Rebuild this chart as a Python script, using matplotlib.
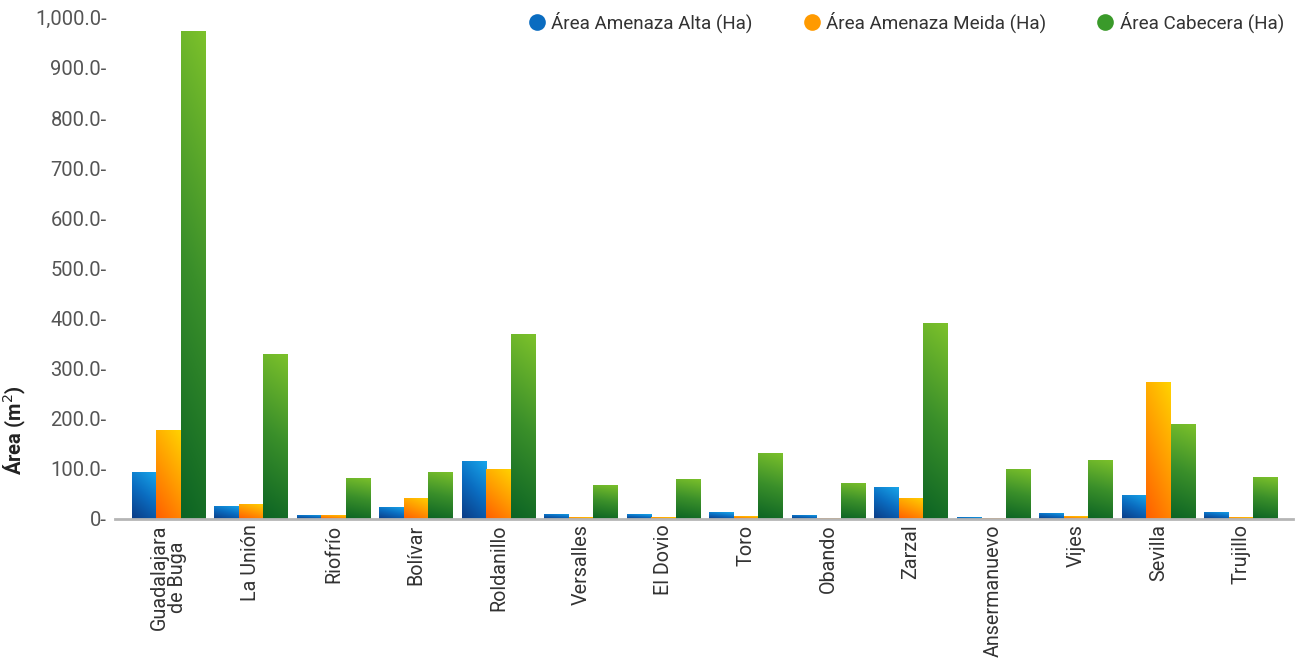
import numpy as np
import matplotlib
matplotlib.use("Agg")
import matplotlib.pyplot as plt
from matplotlib.colors import LinearSegmentedColormap
from matplotlib.lines import Line2D

categories = ["Guadalajara\nde Buga", "La Unión", "Riofrío", "Bolívar", "Roldanillo",
              "Versalles", "El Dovio", "Toro", "Obando", "Zarzal", "Ansermanuevo",
              "Vijes", "Sevilla", "Trujillo"]
alta = [94, 26, 8, 24, 116, 10, 9, 13, 8, 64, 3, 12, 48, 14]
media = [178, 30, 8, 42, 100, 3, 3, 5, 2, 42, 2, 5, 273, 3]
cabecera = [974, 330, 82, 94, 369, 68, 80, 132, 72, 391, 100, 118, 190, 83]
series_names = ["Área Amenaza Alta (Ha)", "Área Amenaza Meida (Ha)", "Área Cabecera (Ha)"]
yticks = [0, 100, 200, 300, 400, 500, 600, 700, 800, 900, 1000]

plt.rcParams["font.family"] = ["Roboto", "DejaVu Sans"]

cmaps = [
    LinearSegmentedColormap.from_list("b", ["#0b3c86", "#0a6cc0", "#18a6ea"]),
    LinearSegmentedColormap.from_list("o", ["#ff5f00", "#ff9a00", "#ffd200"]),
    LinearSegmentedColormap.from_list("g", ["#0c6424", "#3a8f2a", "#7cc12b"]),
]
solid = ["#0a6cc0", "#ff9a00", "#3a9a2a"]

fig = plt.figure(figsize=(13.06, 6.61), dpi=100)
ax = fig.add_axes([0.088, 0.215, 0.902, 0.758])

x = np.arange(len(categories))
w = 0.297
data = [alta, media, cabecera]
ny, nx = 64, 16
yy, xx = np.mgrid[0:1:ny*1j, 0:1:nx*1j]
for si, vals in enumerate(data):
    off = (si - 1) * w
    bars = ax.bar(x + off, vals, width=w, color="none", edgecolor="none", zorder=2)
    grad = 0.8 * yy + 0.35 * xx if si < 2 else 0.92 * yy + 0.1 * xx
    grad = grad / grad.max()
    for b in bars:
        x0, y0 = b.get_x(), b.get_y()
        bw, bh = b.get_width(), b.get_height()
        if bh <= 0:
            continue
        im = ax.imshow(grad, cmap=cmaps[si], origin="lower", aspect="auto",
                       extent=[x0, x0 + bw, y0, y0 + bh], zorder=2, interpolation="bilinear")
        im.set_clip_path(b)

ax.set_xlim(-0.648, 13.63)
ax.set_ylim(0, 1000)
ax.set_xticks(x)
ax.set_xticklabels(categories, rotation=90, fontsize=14.2, color="#333333", va="top", ha="center",
                   linespacing=0.95)
ax.set_yticks(yticks)
ax.set_yticklabels([("0-" if v == 0 else f"{v:,.1f}-") for v in yticks], fontsize=14.5, color="#555555")
ax.tick_params(axis="both", length=0, pad=4)
ax.tick_params(axis="y", pad=6)
for s in ["top", "right", "left"]:
    ax.spines[s].set_visible(False)
ax.spines["bottom"].set_color("#b5b5b5")
ax.spines["bottom"].set_linewidth(2)
ax.set_ylabel("Área (m$^2$)", fontsize=14.5, fontweight="bold", color="#222222")
ax.yaxis.set_label_coords(-0.074, 0.178)

handles = [Line2D([0], [0], marker="o", linestyle="none", markersize=12,
                  markerfacecolor=solid[i], markeredgecolor="none") for i in range(3)]
leg = fig.legend(handles, series_names, loc="upper right", bbox_to_anchor=(0.996, 1.008), ncol=3,
                 frameon=False, fontsize=13.6, handletextpad=0.0, columnspacing=2.4,
                 labelcolor="#333333", handlelength=1.5)

fig.savefig("out.png", dpi=100)
